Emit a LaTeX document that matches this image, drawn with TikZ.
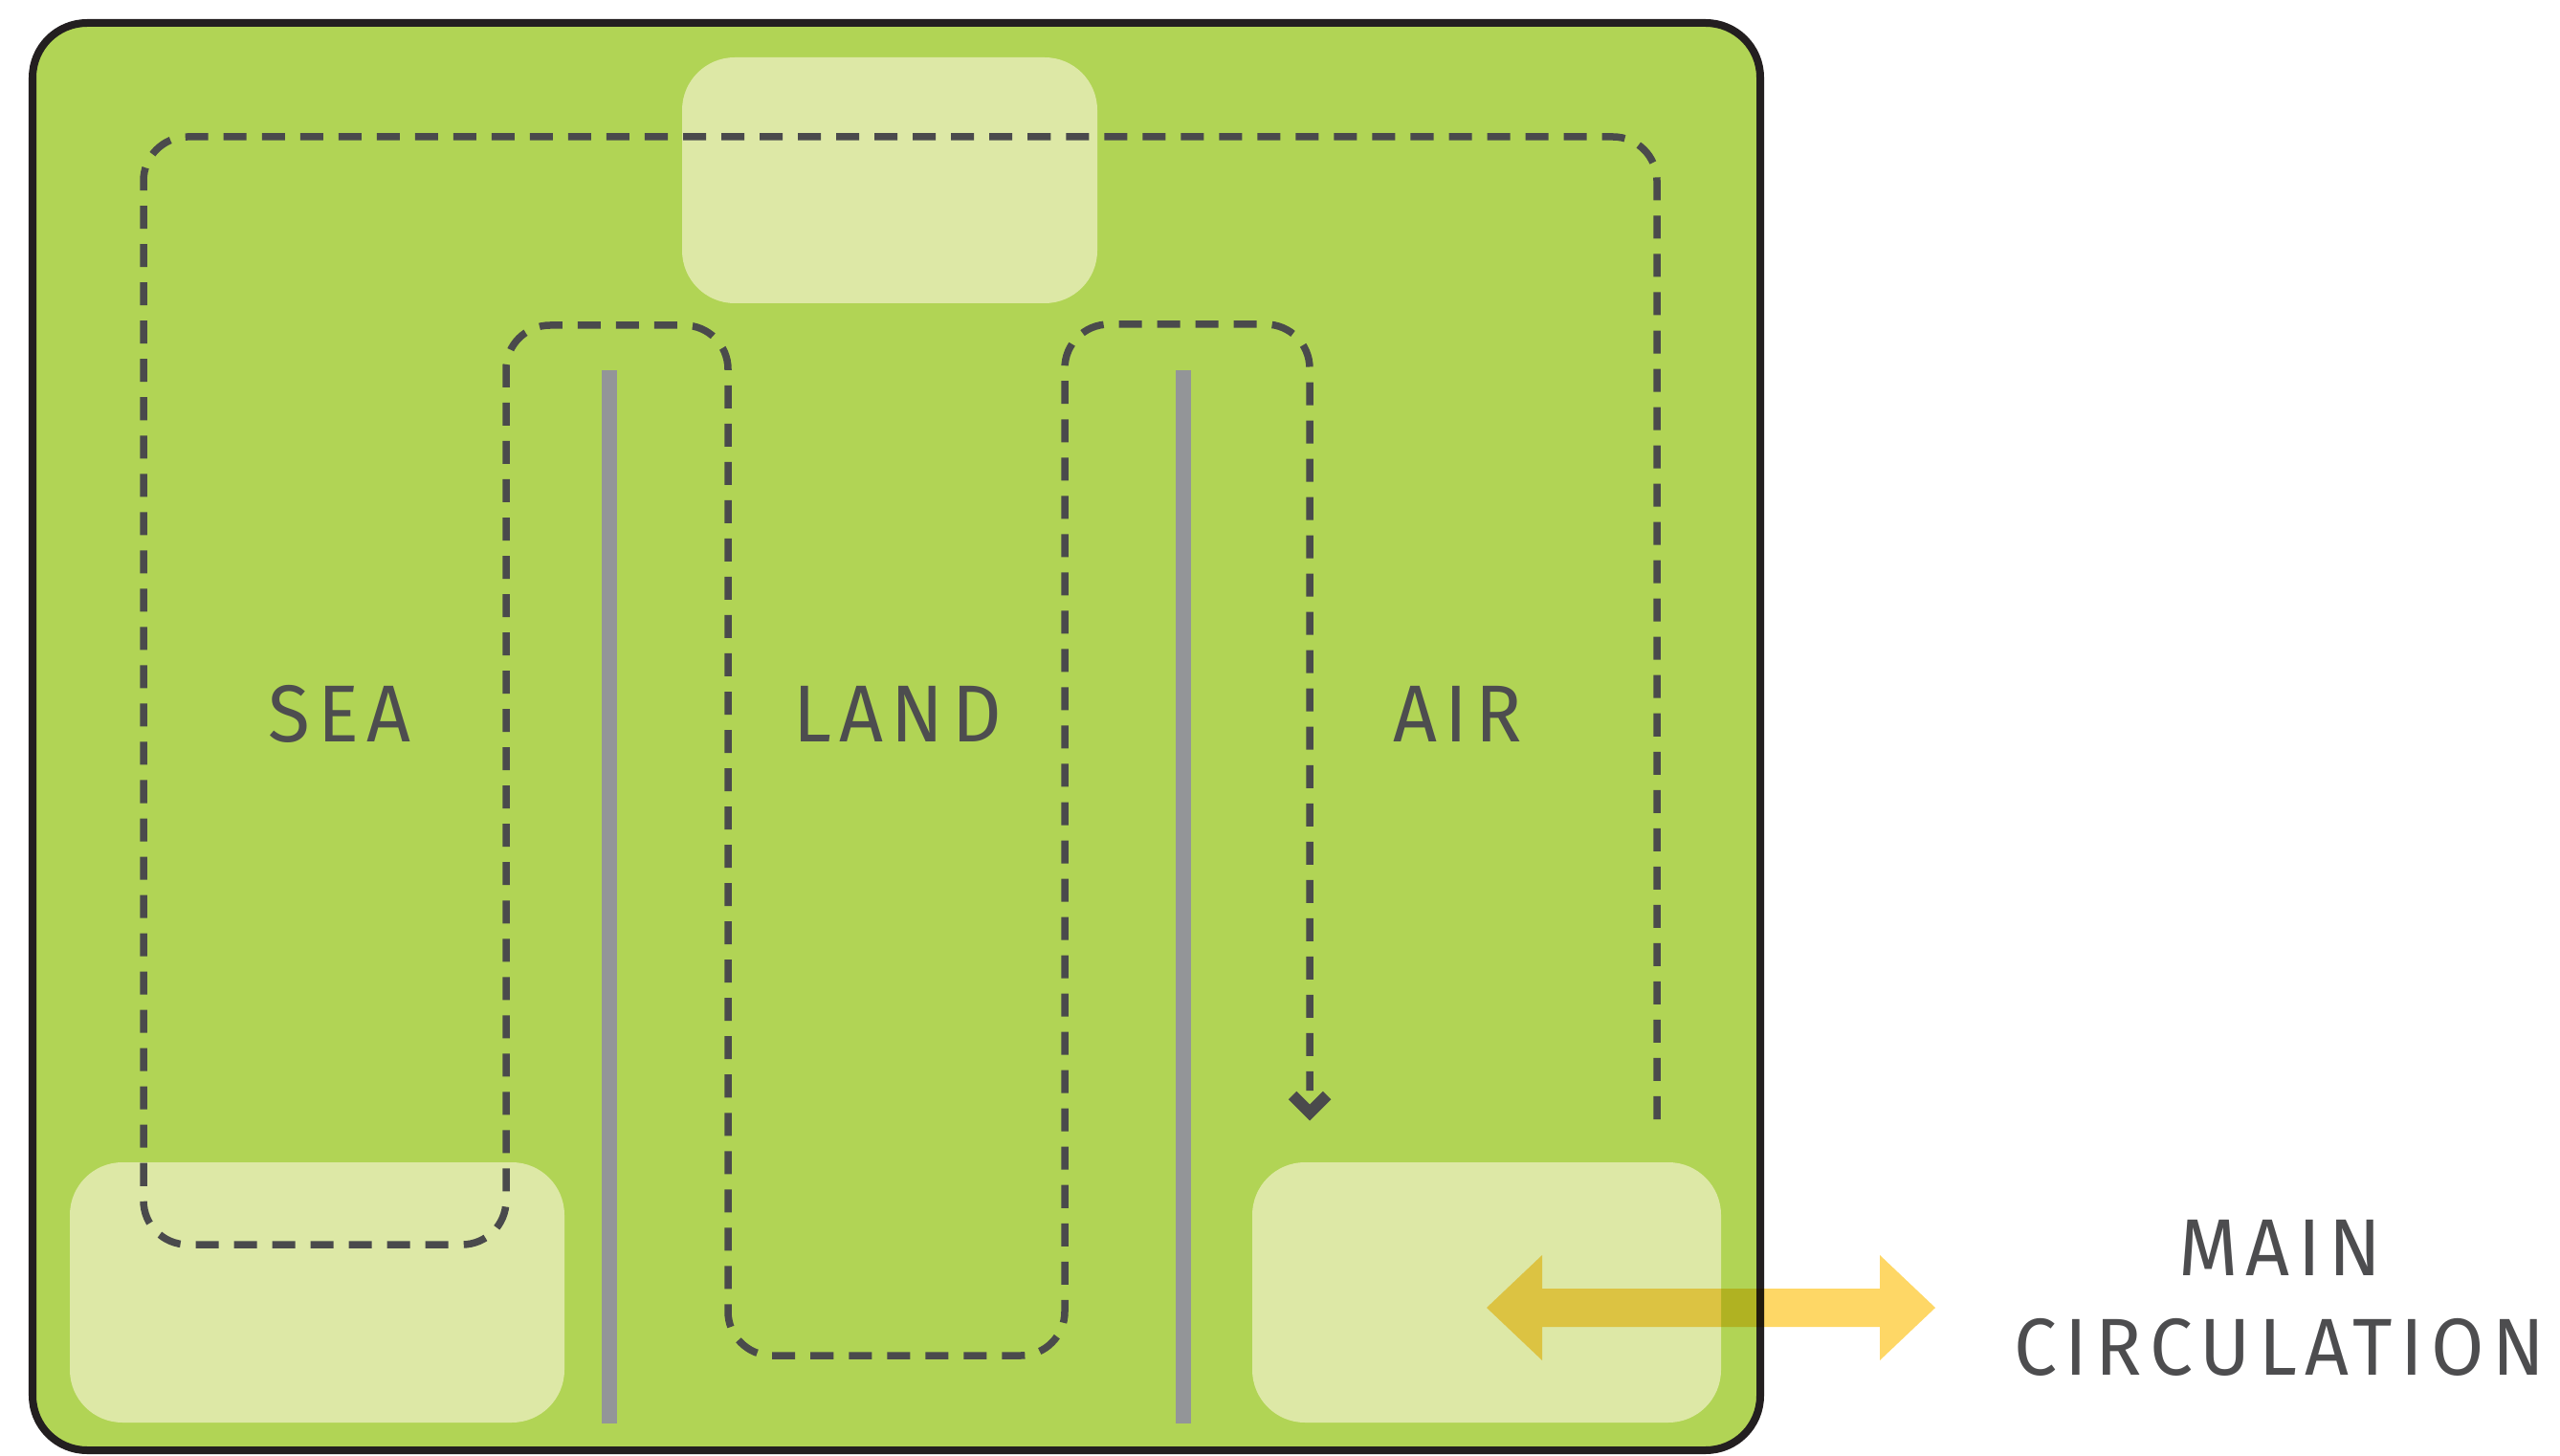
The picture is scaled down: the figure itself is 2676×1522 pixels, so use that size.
\documentclass[tikz,border=0pt]{standalone}
\usepackage{fontspec}
\newfontfamily\labfont[LetterSpace=10,FakeStretch=0.95]{Fira Sans}
\definecolor{grn}{HTML}{B1D455}
\definecolor{lite}{HTML}{DDE8A6}
\definecolor{brd}{HTML}{231F20}
\definecolor{dsh}{HTML}{4A4A4C}
\definecolor{bar}{HTML}{939598}
\definecolor{txt}{HTML}{4D4D4F}
\definecolor{yel}{HTML}{FED766}
\tikzset{
  lab/.style={font=\labfont\fontsize{24pt}{28pt}\selectfont, text=txt, anchor=base, inner sep=0pt},
  lightbox/.style={fill=lite, rounded corners=0.55cm},
  divider/.style={draw=bar, line width=0.16cm},
  route/.style={draw=dsh, line width=0.075cm, dash pattern=on 0.24cm off 0.16cm, rounded corners=0.46cm},
  chev/.style={draw=dsh, line width=0.12cm, miter limit=10}
}
\begin{document}
\begin{tikzpicture}[x=0.01cm,y=-0.01cm]
\useasboundingbox (0,0) rectangle (2676,1522);
% main area
\draw[line width=0.08cm, fill=grn, draw=brd, rounded corners=0.57cm] (34,24) rectangle (1840,1516);
% light zones
\fill[lightbox] (713,60) rectangle (1147,317);
\fill[lightbox] (73,1215) rectangle (590,1487);
\fill[lightbox] (1309,1215) rectangle (1799,1487);
% dividers
\draw[divider] (637,387) -- (637,1488);
\draw[divider] (1237,387) -- (1237,1488);
% route
\draw[route] (1732,1170) -- (1732,143) -- (150,143) -- (150,1301) -- (529,1301) -- (529,340) -- (761,340) -- (761,1417) -- (1113,1417) -- (1113,339) -- (1369,339) -- (1369,1140);
\draw[chev] (1351,1145) -- (1369,1163) -- (1387,1145);
% labels
\node[lab] (sea) at (355,775) {SEA};
\node[lab] (land) at (938,775) {LAND};
\node[lab] (air) at (1524,775) {AIR};
\node[lab] (main) at (2383,1333) {MAIN};
\node[lab] (circ) at (2383,1437) {CIRCULATION};
% main circulation arrow
\begin{scope}[blend mode=multiply]
\fill[yel] (1554,1367) -- (1612,1312) -- (1612,1347) -- (1965,1347) -- (1965,1312) -- (2023,1367) -- (1965,1422) -- (1965,1387) -- (1612,1387) -- (1612,1422) -- cycle;
\end{scope}
\end{tikzpicture}
\end{document}
